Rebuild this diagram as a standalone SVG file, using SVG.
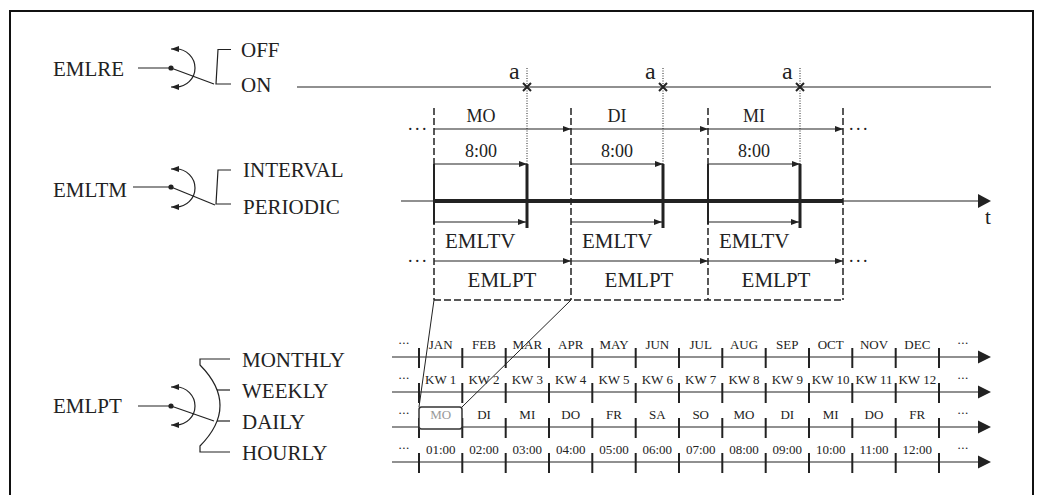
<svg xmlns="http://www.w3.org/2000/svg" width="1037" height="495" viewBox="0 0 1037 495">
<defs>
<style>
.ln{stroke:#222;stroke-width:1.2;fill:none}
.thk{stroke:#222;stroke-width:3;fill:none}
.dash{stroke:#222;stroke-width:1.5;fill:none;stroke-dasharray:7 3}
.dot{stroke:#222;stroke-width:1;fill:none;stroke-dasharray:1 1.5}
.tk{stroke:#222;stroke-width:2}
text{font-family:"Liberation Serif","Times New Roman",serif;fill:#222}
.big{font-size:21px}
.mid{font-size:18px}
.sm{font-size:13px}
.c{text-anchor:middle}
.dots{font-size:18px;letter-spacing:2.5px}
.sdots{font-size:13px;letter-spacing:0.5px}
.lbl-a{font-size:24px}
</style>
<marker id="ar" markerWidth="8" markerHeight="6" refX="8" refY="3" orient="auto-start-reverse" markerUnits="userSpaceOnUse">
<path d="M0,0 L8,3 L0,6 z" fill="#222"/>
</marker>
</defs>
<rect width="1037" height="495" fill="#fff"/>
<path d="M10,495 V11 H1033 V495" fill="none" stroke="#111" stroke-width="2"/>

<g id="emlre">
<text class="big" x="53" y="76">EMLRE</text>
<line class="ln" x1="138" y1="68" x2="171" y2="68"/>
<circle cx="171" cy="68" r="2.6" fill="#222"/>
<line class="ln" x1="171" y1="68" x2="214" y2="84"/>
<path class="ln" d="M171,49 H176 A19,19 0 0 1 176,87 H171" marker-start="url(#ar)" marker-end="url(#ar)"/>
<path class="ln" d="M231,49.5 H218 L216,84 H231"/>
<text class="big" x="241" y="57">OFF</text>
<text class="big" x="241" y="92">ON</text>
</g>

<g id="emltm">
<text class="big" x="53" y="197">EMLTM</text>
<line class="ln" x1="133" y1="187" x2="171" y2="187"/>
<circle cx="171" cy="187" r="2.6" fill="#222"/>
<line class="ln" x1="171" y1="187" x2="215" y2="205"/>
<path class="ln" d="M171,169 H176 A19,19 0 0 1 176,207 H171" marker-start="url(#ar)" marker-end="url(#ar)"/>
<path class="ln" d="M231,170 H218 L216,204 H231"/>
<text class="big" x="243" y="177">INTERVAL</text>
<text class="big" x="243" y="214">PERIODIC</text>
</g>

<g id="emlpt">
<text class="big" x="53" y="413">EMLPT</text>
<line class="ln" x1="138" y1="406" x2="171" y2="406"/>
<circle cx="171" cy="406" r="2.6" fill="#222"/>
<line class="ln" x1="171" y1="406" x2="214" y2="421"/>
<path class="ln" d="M171,387 H176 A19,19 0 0 1 176,425 H171" marker-start="url(#ar)" marker-end="url(#ar)"/>
<path class="ln" d="M230,359 H200 V365 Q240,405.5 200,446 V452 H230"/>
<line class="ln" x1="217" y1="390" x2="230" y2="390"/>
<line class="ln" x1="217" y1="421" x2="230" y2="421"/>
<text class="big" x="242" y="367">MONTHLY</text>
<text class="big" x="242" y="398">WEEKLY</text>
<text class="big" x="242" y="429">DAILY</text>
<text class="big" x="242" y="460">HOURLY</text>
</g>

<g id="release-line">
<line class="ln" x1="297" y1="87" x2="991" y2="87"/>
<g stroke="#222" stroke-width="2">
<path d="M523,83 L531,91 M531,83 L523,91"/>
<path d="M659,83 L667,91 M667,83 L659,91"/>
<path d="M796,83 L804,91 M804,83 L796,91"/>
</g>
<text class="lbl-a" x="509" y="79">a</text>
<text class="lbl-a" x="645" y="79">a</text>
<text class="lbl-a" x="782" y="79">a</text>
<line class="dot" x1="527" y1="68" x2="527" y2="164"/>
<line class="dot" x1="663" y1="68" x2="663" y2="164"/>
<line class="dot" x1="800" y1="68" x2="800" y2="164"/>
</g>

<g id="timeline">
<line class="dash" x1="434" y1="108" x2="434" y2="300"/>
<line class="dash" x1="571" y1="108" x2="571" y2="300"/>
<line class="dash" x1="708" y1="108" x2="708" y2="300"/>
<line class="dash" x1="843" y1="108" x2="843" y2="300"/>
<line class="dash" x1="434" y1="300" x2="843" y2="300"/>
<line class="tk" x1="434" y1="164" x2="434" y2="224"/>
<line class="tk" x1="708" y1="164" x2="708" y2="224"/>

<text class="mid c" x="481" y="122">MO</text>
<text class="mid c" x="617" y="122">DI</text>
<text class="mid c" x="754" y="122">MI</text>
<text class="dots" x="408" y="130">...</text>
<text class="dots" x="849" y="130">...</text>

<text class="mid c" x="481" y="157">8:00</text>
<text class="mid c" x="617" y="157">8:00</text>
<text class="mid c" x="754" y="157">8:00</text>

<line class="ln" x1="401" y1="201" x2="979" y2="201"/>
<line x1="434" y1="201" x2="843" y2="201" stroke="#222" stroke-width="4"/>
<polygon points="978,194 991,201 978,208" fill="#222"/>
<text class="big" x="985" y="224">t</text>

<line class="thk" x1="527" y1="164" x2="527" y2="228"/>
<line class="thk" x1="663" y1="164" x2="663" y2="228"/>
<line class="thk" x1="800" y1="164" x2="800" y2="228"/>

<text class="big" x="445" y="248">EMLTV</text>
<text class="big" x="582" y="248">EMLTV</text>
<text class="big" x="719" y="248">EMLTV</text>

<text class="dots" x="408" y="262">...</text>
<text class="dots" x="849" y="262">...</text>
<text class="big c" x="502" y="287">EMLPT</text>
<text class="big c" x="639" y="287">EMLPT</text>
<text class="big c" x="776" y="287">EMLPT</text>
</g>

<g id="connectors">
<line class="ln" x1="434" y1="129" x2="571" y2="129" marker-end="url(#ar)"/>
<line class="ln" x1="571" y1="129" x2="708" y2="129" marker-end="url(#ar)"/>
<line class="ln" x1="708" y1="129" x2="843" y2="129" marker-end="url(#ar)"/>
<line class="ln" x1="434" y1="164" x2="527" y2="164" marker-end="url(#ar)"/>
<line class="ln" x1="571" y1="164" x2="663" y2="164" marker-end="url(#ar)"/>
<line class="ln" x1="708" y1="164" x2="800" y2="164" marker-end="url(#ar)"/>
<line class="ln" x1="434" y1="222" x2="526" y2="222" marker-end="url(#ar)"/>
<line class="ln" x1="571" y1="222" x2="662" y2="222" marker-end="url(#ar)"/>
<line class="ln" x1="708" y1="222" x2="799" y2="222" marker-end="url(#ar)"/>
<line class="ln" x1="434" y1="261" x2="571" y2="261" marker-end="url(#ar)"/>
<line class="ln" x1="571" y1="261" x2="708" y2="261" marker-end="url(#ar)"/>
<line class="ln" x1="708" y1="261" x2="843" y2="261" marker-end="url(#ar)"/>
<line x1="434" y1="300" x2="419" y2="407" stroke="#222" stroke-width="1"/>
<line x1="571" y1="300" x2="462" y2="407" stroke="#222" stroke-width="1"/>
</g>

<g id="rows">
<g id="row-axes">
<line class="ln" x1="392" y1="357" x2="979" y2="357"/>
<line class="ln" x1="392" y1="392" x2="979" y2="392"/>
<line class="ln" x1="392" y1="427" x2="979" y2="427"/>
<line class="ln" x1="392" y1="462" x2="979" y2="462"/>
<polygon points="978,350.5 991,357 978,363.5" fill="#222"/>
<polygon points="978,385.5 991,392 978,398.5" fill="#222"/>
<polygon points="978,420.5 991,427 978,433.5" fill="#222"/>
<polygon points="978,455.5 991,462 978,468.5" fill="#222"/>
</g>
<g id="ticks" stroke="#222" stroke-width="2">
<path d="M419,348V368 M462.3,348V368 M505.7,348V368 M549,348V368 M592.3,348V368 M635.7,348V368 M679,348V368 M722.3,348V368 M765.7,348V368 M809,348V368 M852.3,348V368 M895.7,348V368 M939,348V368"/>
<path d="M419,383V403 M462.3,383V403 M505.7,383V403 M549,383V403 M592.3,383V403 M635.7,383V403 M679,383V403 M722.3,383V403 M765.7,383V403 M809,383V403 M852.3,383V403 M895.7,383V403 M939,383V403"/>
<path d="M419,418V438 M462.3,418V438 M505.7,418V438 M549,418V438 M592.3,418V438 M635.7,418V438 M679,418V438 M722.3,418V438 M765.7,418V438 M809,418V438 M852.3,418V438 M895.7,418V438 M939,418V438"/>
<path d="M419,453V473 M462.3,453V473 M505.7,453V473 M549,453V473 M592.3,453V473 M635.7,453V473 M679,453V473 M722.3,453V473 M765.7,453V473 M809,453V473 M852.3,453V473 M895.7,453V473 M939,453V473"/>
</g>
<g id="row-monthly">
<text class="sdots c" x="404" y="344">...</text>
<text class="sm c" x="440.7" y="349">JAN</text>
<text class="sm c" x="484" y="349">FEB</text>
<text class="sm c" x="527.3" y="349">MAR</text>
<text class="sm c" x="570.7" y="349">APR</text>
<text class="sm c" x="614" y="349">MAY</text>
<text class="sm c" x="657.3" y="349">JUN</text>
<text class="sm c" x="700.7" y="349">JUL</text>
<text class="sm c" x="744" y="349">AUG</text>
<text class="sm c" x="787.3" y="349">SEP</text>
<text class="sm c" x="830.7" y="349">OCT</text>
<text class="sm c" x="874" y="349">NOV</text>
<text class="sm c" x="917.3" y="349">DEC</text>
<text class="sdots c" x="963" y="344">...</text>
</g>
<g id="row-weekly">
<text class="sdots c" x="404" y="379">...</text>
<text class="sm c" x="440.7" y="384">KW 1</text>
<text class="sm c" x="484" y="384">KW 2</text>
<text class="sm c" x="527.3" y="384">KW 3</text>
<text class="sm c" x="570.7" y="384">KW 4</text>
<text class="sm c" x="614" y="384">KW 5</text>
<text class="sm c" x="657.3" y="384">KW 6</text>
<text class="sm c" x="700.7" y="384">KW 7</text>
<text class="sm c" x="744" y="384">KW 8</text>
<text class="sm c" x="787.3" y="384">KW 9</text>
<text class="sm c" x="830.7" y="384">KW 10</text>
<text class="sm c" x="874" y="384">KW 11</text>
<text class="sm c" x="917.3" y="384">KW 12</text>
<text class="sdots c" x="963" y="379">...</text>
</g>
<g id="row-daily">
<text class="sdots c" x="404" y="414">...</text>
<rect x="419" y="407" width="43" height="22" rx="2.5" fill="#fff" stroke="#333" stroke-width="1.5"/>
<text class="sm c" x="440.7" y="419" style="fill:#999">MO</text>
<text class="sm c" x="484" y="419">DI</text>
<text class="sm c" x="527.3" y="419">MI</text>
<text class="sm c" x="570.7" y="419">DO</text>
<text class="sm c" x="614" y="419">FR</text>
<text class="sm c" x="657.3" y="419">SA</text>
<text class="sm c" x="700.7" y="419">SO</text>
<text class="sm c" x="744" y="419">MO</text>
<text class="sm c" x="787.3" y="419">DI</text>
<text class="sm c" x="830.7" y="419">MI</text>
<text class="sm c" x="874" y="419">DO</text>
<text class="sm c" x="917.3" y="419">FR</text>
<text class="sdots c" x="963" y="414">...</text>
</g>
<g id="row-hourly">
<text class="sdots c" x="404" y="449">...</text>
<text class="sm c" x="440.7" y="454">01:00</text>
<text class="sm c" x="484" y="454">02:00</text>
<text class="sm c" x="527.3" y="454">03:00</text>
<text class="sm c" x="570.7" y="454">04:00</text>
<text class="sm c" x="614" y="454">05:00</text>
<text class="sm c" x="657.3" y="454">06:00</text>
<text class="sm c" x="700.7" y="454">07:00</text>
<text class="sm c" x="744" y="454">08:00</text>
<text class="sm c" x="787.3" y="454">09:00</text>
<text class="sm c" x="830.7" y="454">10:00</text>
<text class="sm c" x="874" y="454">11:00</text>
<text class="sm c" x="917.3" y="454">12:00</text>
<text class="sdots c" x="963" y="449">...</text>
</g>
</g>
</svg>
